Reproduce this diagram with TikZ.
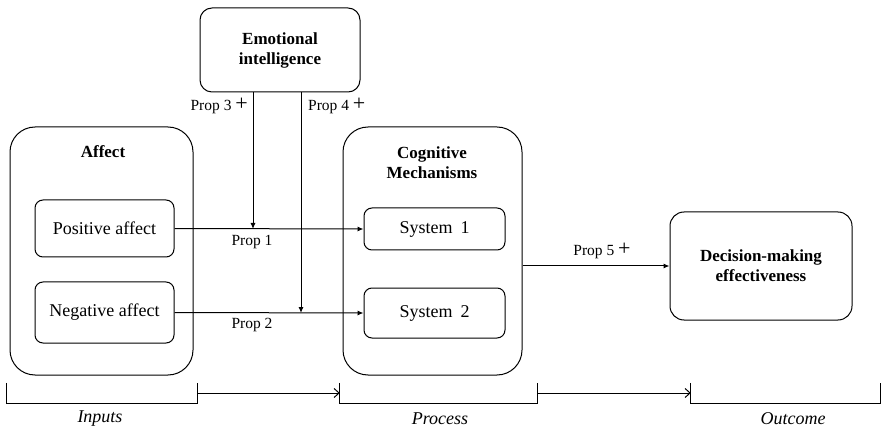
\documentclass[tikz,border=0pt]{standalone}
\usepackage{fontspec}
\setmainfont{Liberation Serif}
\usetikzlibrary{arrows.meta,positioning}
\tikzset{box node/.style={rectangle, draw, rounded corners=#1, line width=1pt,
    font=\fontsize{18}{20}\selectfont, align=center, inner sep=0pt}}
\tikzset{title node/.style={font=\fontsize{17}{20}\selectfont\bfseries, align=center, inner sep=0pt}}
\tikzset{prop node/.style={font=\fontsize{15.5}{17}\selectfont, inner sep=0pt}}
\tikzset{stage node/.style={font=\fontsize{18}{20}\selectfont\itshape, inner sep=0pt}}
\tikzset{bracket node/.style={rectangle, inner sep=0pt, minimum height=20pt}}
\tikzset{regular edge/.style={draw, line width=1pt, -{Latex[length=6pt,width=5pt]}}}
\tikzset{stage edge/.style={draw, line width=1pt, -{Straight Barb[length=5pt,width=9pt]}}}
\newcommand{\plussign}{{\fontsize{22}{22}\selectfont +}}

\begin{document}
\begin{tikzpicture}
  [x=1pt, y=-1pt]
  \useasboundingbox (0,0) rectangle (883,430);
  \begin{scope}
    \node [box node=12, minimum width=160pt, minimum height=84pt, font=\fontsize{17}{20}\selectfont\bfseries]
                                                   (ei)     at (280, 50)    {Emotional\\intelligence};
    \node [box node=25, minimum width=183pt, minimum height=248pt] (affect) at (101.5, 251) {};
    \node [title node]                             (afft)   at (103, 152)   {Affect};
    \node [box node=8, minimum width=139pt, minimum height=57pt]  (posaff) at (104.5, 228.5) {Positive affect};
    \node [box node=8, minimum width=139pt, minimum height=61pt]  (negaff) at (104.5, 312.5) {Negative affect};
    \node [box node=25, minimum width=179pt, minimum height=248pt] (cog)    at (432.5, 251) {};
    \node [title node]                             (cogt)   at (432, 163)   {Cognitive\\Mechanisms};
    \node [box node=8, minimum width=141pt, minimum height=42pt]  (sys1)   at (434.5, 229) {System\;\,1};
    \node [box node=8, minimum width=141pt, minimum height=50pt]  (sys2)   at (434.5, 313) {System\;\,2};
    \node [box node=14, minimum width=182pt, minimum height=108pt, font=\fontsize{17}{20}\selectfont\bfseries]
                                                   (dme)    at (761, 266)   {Decision-making\\effectiveness};

    \coordinate (mod1) at (253, 229);
    \coordinate (mod2) at (301, 313);

    \draw [regular edge] (posaff.east)           to (sys1.west);
    \draw [regular edge] (negaff.east)           to (sys2.west);
    \draw [regular edge] (ei.south -| mod1)      to (mod1);
    \draw [regular edge] (ei.south -| mod2)      to (mod2);
    \draw [regular edge] (cog.east |- dme.west)  to (dme.west);

    \node [prop node, anchor=east] (prop3) at (248, 106) {Prop 3 \plussign};
    \node [prop node, anchor=west] (prop4) at (308, 106) {Prop 4 \plussign};
    \node [prop node]              (prop1) at (252, 242) {Prop 1};
    \node [prop node]              (prop2) at (252, 325) {Prop 2};
    \node [prop node]              (prop5) at (602, 251) {Prop 5 \plussign};
  \end{scope}

  \begin{scope}
    \node [bracket node, minimum width=190pt] (inbr)   at (102, 393)   {};
    \node [bracket node, minimum width=197pt] (procbr) at (438.5, 393) {};
    \node [bracket node, minimum width=189pt] (outbr)  at (785.5, 393) {};
    \foreach \br in {inbr, procbr, outbr}
      \draw [line width=1pt] (\br.north west) |- (\br.south east) -- (\br.north east);

    \draw [stage edge] (inbr.east)   to (procbr.west);
    \draw [stage edge] (procbr.east) to (outbr.west);

    \node [stage node] (inputs)  at (100, 419) {Inputs};
    \node [stage node] (process) at (440, 419) {Process};
    \node [stage node] (outcome) at (793, 419) {Outcome};
  \end{scope}
\end{tikzpicture}
\end{document}
